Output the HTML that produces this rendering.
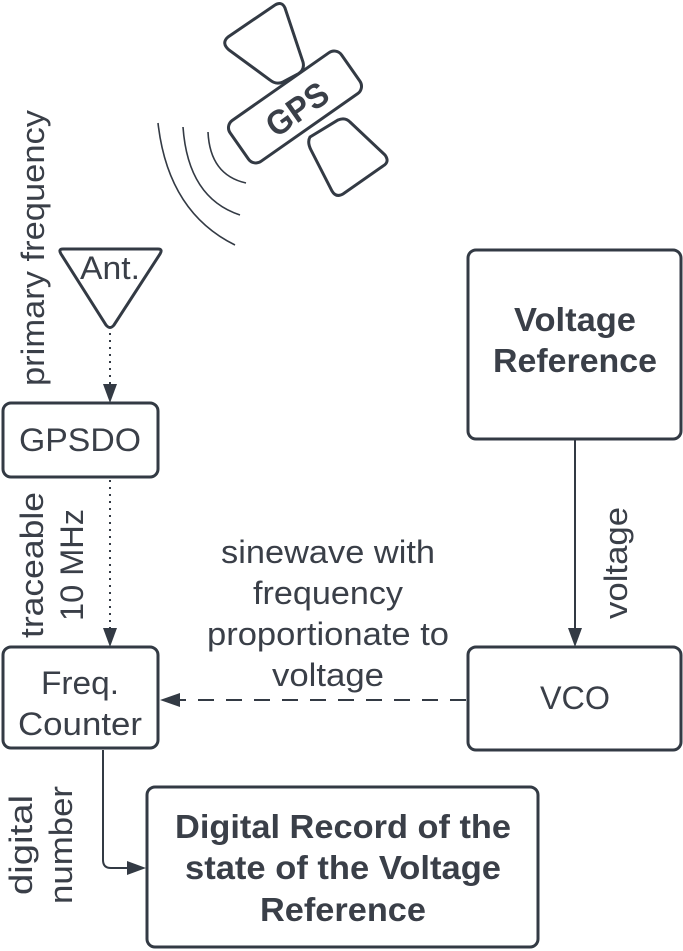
<!DOCTYPE html>
<html><head><meta charset="utf-8"><style>
html,body{margin:0;padding:0;background:#fff;}
svg{display:block;}
text{font-family:"Liberation Sans",sans-serif;fill:#3a3f48;}
</style></head><body>
<svg width="683" height="951" viewBox="0 0 683 951" xmlns="http://www.w3.org/2000/svg">
<g stroke="#333a44" fill="none" stroke-width="3">
<path d="M228,37 L275,5 Q282,1 285,8 L303,62 Q305,70 298,74 L283,82 Q276,85 270,80 L229,50 Q221,43 228,37 Z"/>
<path d="M310,137 L338,120 Q345,117 350,122 L385,155 Q390,162 383,166 L343,194 Q336,198 332,191 L311,150 Q307,142 310,137 Z"/>
<g transform="translate(295,107) rotate(-35)">
<rect x="-68" y="-25" width="136" height="50" rx="9" fill="#fff"/>
</g>
<path d="M158,123 Q168,212 235,245" stroke-width="1.6"/>
<path d="M183,127 Q188,198 240,215" stroke-width="1.6"/>
<path d="M208,132 Q210,175 246,183" stroke-width="1.6"/>
<path d="M63,249 L158,249 Q163,249 160,254 L114,325 Q110,330 106,325 L61,254 Q58,249 63,249 Z"/>
<rect x="3" y="403" width="155" height="74" rx="8"/>
<rect x="3" y="647" width="155" height="101" rx="8"/>
<rect x="468" y="250" width="213" height="189" rx="8"/>
<rect x="468" y="647" width="213" height="103" rx="8"/>
<rect x="147" y="787" width="391" height="160" rx="8"/>
<path d="M110,333 L110,384" stroke-width="2" stroke-dasharray="2,5"/>
<path d="M110,480 L110,628" stroke-width="2" stroke-dasharray="2,5"/>
<path d="M466,700 L178,700" stroke-width="2" stroke-dasharray="16,12"/>
<path d="M575,440 L575,628" stroke-width="2"/>
<path d="M103,750 L103,860 Q103,868 111,868 L128,868" stroke-width="2"/>
</g>
<g fill="#333a44">
<polygon points="103,384 117,384 110,403"/>
<polygon points="103,628 117,628 110,647"/>
<polygon points="568,628 582,628 575,647"/>
<polygon points="160,700 180,693 180,707"/>
<polygon points="127,861 127,875 146,868"/>
</g>
<text transform="translate(297,109) rotate(-35)" x="0" y="12" text-anchor="middle" font-size="34" font-weight="bold" textLength="68" lengthAdjust="spacingAndGlyphs">GPS</text>
<text x="110" y="279" text-anchor="middle" font-size="32" textLength="60" lengthAdjust="spacingAndGlyphs">Ant.</text>
<text x="80" y="451" text-anchor="middle" font-size="32" textLength="122" lengthAdjust="spacingAndGlyphs">GPSDO</text>
<text x="80" y="694" text-anchor="middle" font-size="32" textLength="78" lengthAdjust="spacingAndGlyphs">Freq.</text>
<text x="80" y="735" text-anchor="middle" font-size="32" textLength="124" lengthAdjust="spacingAndGlyphs">Counter</text>
<text x="575" y="331" text-anchor="middle" font-size="33" font-weight="bold" textLength="122" lengthAdjust="spacingAndGlyphs">Voltage</text>
<text x="575" y="372" text-anchor="middle" font-size="33" font-weight="bold" textLength="164" lengthAdjust="spacingAndGlyphs">Reference</text>
<text x="575" y="709" text-anchor="middle" font-size="32" textLength="70" lengthAdjust="spacingAndGlyphs">VCO</text>
<text x="343" y="838" text-anchor="middle" font-size="33" font-weight="bold" textLength="336" lengthAdjust="spacingAndGlyphs">Digital Record of the</text>
<text x="343" y="879" text-anchor="middle" font-size="33" font-weight="bold" textLength="316" lengthAdjust="spacingAndGlyphs">state of the Voltage</text>
<text x="343" y="921" text-anchor="middle" font-size="33" font-weight="bold" textLength="166" lengthAdjust="spacingAndGlyphs">Reference</text>
<g font-size="32" text-anchor="middle">
<text x="328" y="563" textLength="214" lengthAdjust="spacingAndGlyphs">sinewave with</text>
<text x="328" y="604" textLength="150" lengthAdjust="spacingAndGlyphs">frequency</text>
<text x="328" y="645" textLength="242" lengthAdjust="spacingAndGlyphs">proportionate to</text>
<text x="328" y="686" textLength="112" lengthAdjust="spacingAndGlyphs">voltage</text>
</g>
<g font-size="32" text-anchor="middle">
<text transform="translate(44,248) rotate(-90)" textLength="276" lengthAdjust="spacingAndGlyphs">primary frequency</text>
<text transform="translate(43,565) rotate(-90)" textLength="146" lengthAdjust="spacingAndGlyphs">traceable</text>
<text transform="translate(83,565) rotate(-90)" textLength="112" lengthAdjust="spacingAndGlyphs">10 MHz</text>
<text transform="translate(32,845) rotate(-90)" textLength="100" lengthAdjust="spacingAndGlyphs">digital</text>
<text transform="translate(72,845) rotate(-90)" textLength="118" lengthAdjust="spacingAndGlyphs">number</text>
<text transform="translate(627,563) rotate(-90)" textLength="112" lengthAdjust="spacingAndGlyphs">voltage</text>
</g>
</svg>
</body></html>
